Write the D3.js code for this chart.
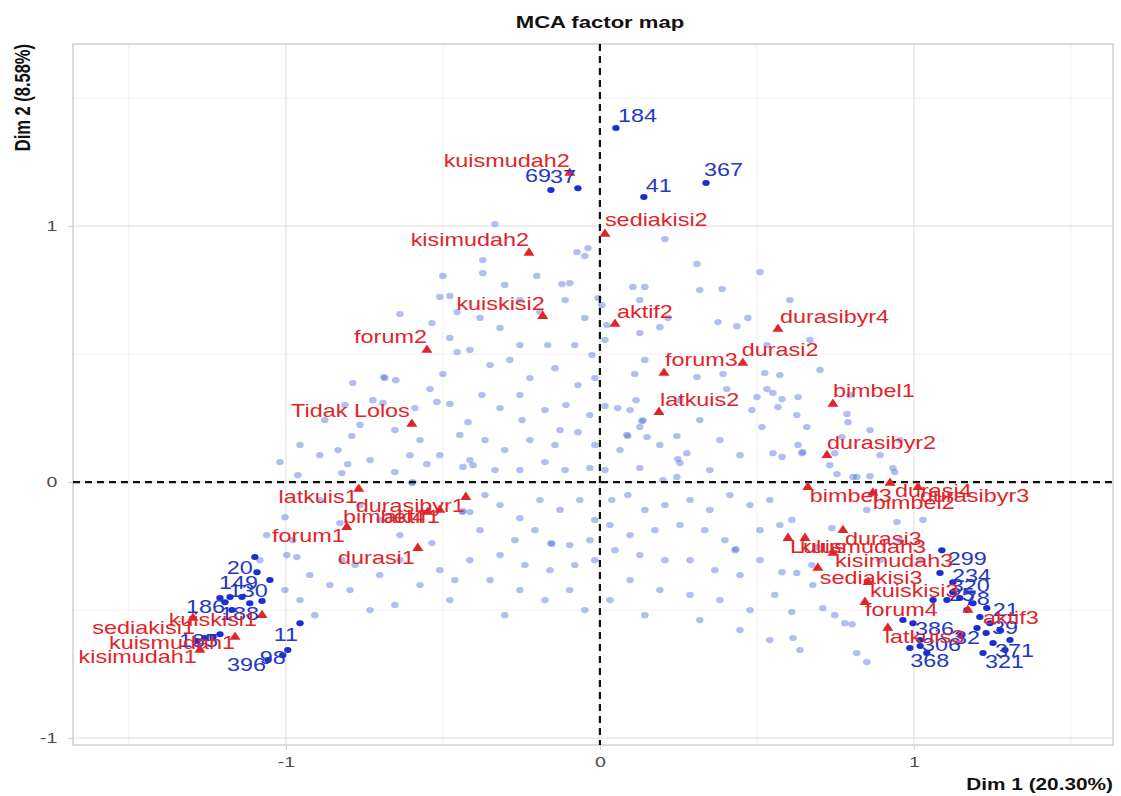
<!DOCTYPE html>
<html><head><meta charset="utf-8">
<script src="https://cdn.jsdelivr.net/npm/d3@7"></script>
<style>body{margin:0;background:#fff}svg{display:block}</style>
</head><body><svg id="c" width="1121" height="796"></svg>
<script>
// ---------------- DATA ----------------
const tickValues = [-1, 0, 1];
const tickLabels = ["-1", "0", "1"];
const xTitle = "Dim 1 (20.30%)";
const yTitle = "Dim 2 (8.58%)";
const chartTitle = "MCA factor map";

// variable categories (red triangles)
const catNames = ["kuismudah2","sediakisi2","kisimudah2","kuiskisi2","aktif2","forum2","Tidak Lolos","durasibyr4","forum3","durasi2","latkuis2","bimbel1","durasibyr2","latkuis1","durasibyr1","bimbel4","aktif1","forum1","durasi1","bimbel3","bimbel2","durasi4","durasibyr3","durasi3","Lulus","kuismudah3","kisimudah3","sediakisi3","kuiskisi3","forum4","latkuis3","aktif3","kuiskisi1","sediakisi1","kuismudah1","kisimudah1"];
const catDim1 = [-0.096,0.016,-0.226,-0.182,0.048,-0.551,-0.599,0.567,0.204,0.455,0.188,0.742,0.723,-0.768,-0.427,-0.548,-0.510,-0.806,-0.580,0.662,0.869,0.924,1.013,0.774,0.599,0.653,0.742,0.694,0.854,0.844,0.917,1.172,-1.076,-1.296,-1.162,-1.274];
const catDim2 = [1.207,0.969,0.895,0.648,0.617,0.516,0.227,0.598,0.426,0.465,0.273,0.305,0.105,-0.027,-0.059,-0.117,-0.109,-0.176,-0.258,-0.020,-0.043,-0.004,-0.020,-0.188,-0.219,-0.219,-0.277,-0.336,-0.391,-0.469,-0.570,-0.500,-0.520,-0.531,-0.605,-0.656];

// selected (high contribution) individuals, labelled
const selIds  = ["184","367","41","69","37","20","149","130","186","188","11","98","396","185","299","234","320","25","78","21","39","371","321","368","386","306","32"];
const selDim1 = [0.051,0.338,0.140,-0.156,-0.070,-1.099,-1.092,-1.051,-1.194,-1.076,-0.955,-0.994,-1.057,-1.232,1.089,1.083,1.124,1.124,1.146,1.232,1.242,1.252,1.220,1.041,0.997,1.019,1.201];
const selDim2 = [1.383,1.168,1.113,1.141,1.148,-0.293,-0.352,-0.383,-0.469,-0.465,-0.551,-0.656,-0.695,-0.605,-0.266,-0.355,-0.391,-0.430,-0.453,-0.492,-0.551,-0.629,-0.668,-0.668,-0.551,-0.617,-0.570];
// selected individuals whose labels are hidden by overlap
const selHidDim1 = [-1.178,-1.140,-1.115,-1.258,-1.283,-1.210,-1.010,-1.172,-1.210,1.061,1.105,1.188,1.169,1.210,1.274,0.965,0.987,1.306,1.290,1.150,1.020,1.230];
const selHidDim2 = [-0.449,-0.449,-0.473,-0.609,-0.621,-0.594,-0.676,-0.500,-0.453,-0.461,-0.461,-0.473,-0.500,-0.527,-0.578,-0.539,-0.648,-0.617,-0.656,-0.600,-0.640,-0.590];

// remaining individuals (light points)
const indDim1 = [-0.073,-0.038,-0.048,-0.334,-0.373,-0.373,-0.500,-0.303,-0.201,-0.121,-0.096,0.207,0.309,0.389,0.105,0.143,
-0.510,-0.478,-0.637,-0.535,-0.455,-0.478,-0.455,-0.500,-0.685,-0.688,-0.650,-0.787,-0.541,-0.519,-0.478,-0.723,-0.691,-0.589,-0.790,-0.420,
0.022,0.127,0.191,0.217,0.376,0.436,0.471,0.016,0.143,0.111,0.309,0.392,0.525,0.573,0.532,0.404,0.532,0.551,0.580,0.500,0.631,0.484,0.567,0.115,0.016,0.057,0.096,0.134,0.137,0.127,0.086,0.089,0.150,0.245,0.516,0.627,0.659,0.787,0.790,0.277,0.248,0.255,0.631,0.551,0.580,0.643,0.646,0.748,0.771,0.127,0.732,0.933,0.806,0.860,0.245,0.201,
-0.962,-0.822,-0.803,-0.653,-0.551,-0.436,-0.404,-0.599,-0.596,-1.003,-1.061,-0.978,-0.828,-0.439,-0.436,-0.414,-0.535,-0.997,-0.965,-0.822,-0.780,
0.755,0.818,0.939,0.611,0.739,0.946,1.029,0.850,0.691,0.675,0.627,0.678,0.580,0.611,0.710,0.748,0.780,0.803,0.615,0.818,0.850,
-0.255,-0.191,-0.111,-0.048,-0.006,0.006,-0.382,-0.318,-0.255,-0.166,-0.080,-0.025,-0.414,-0.350,-0.287,-0.223,-0.143,-0.070,-0.016,-0.376,-0.318,-0.248,-0.175,-0.108,-0.032,-0.366,-0.303,-0.223,-0.143,-0.070,-0.016,-0.414,-0.334,-0.255,-0.175,-0.111,-0.032,-0.446,-0.255,-0.127,
-0.955,-0.892,-1.019,-0.834,-0.764,-0.653,-0.573,-0.510,-0.732,-0.605,-0.812,-0.876,
-0.366,-0.318,-0.255,-0.191,-0.127,-0.064,-0.016,-0.271,-0.207,-0.156,-0.153,-0.096,-0.032,-0.382,-0.318,-0.239,-0.159,-0.080,-0.016,-0.350,-0.255,-0.175,-0.096,-0.303,-0.414,-0.462,-0.048,
-0.892,-0.764,-0.701,-0.637,-0.924,-0.860,-0.796,-0.701,-0.637,-0.573,-0.510,-0.732,-0.653,-0.955,-0.908,-1.003,-1.083,-0.478,
0.038,0.089,0.143,0.207,0.287,0.350,0.414,0.478,0.541,0.032,0.096,0.175,0.255,0.334,0.398,0.430,0.433,0.510,0.573,0.048,0.127,0.207,0.287,0.366,0.446,0.510,0.096,0.191,0.287,0.382,0.478,0.557,0.318,0.446,0.541,0.637,0.032,0.143,
0.127,0.318,0.510,0.605,0.669,0.701,0.796,0.860,0.892,0.955,0.255,0.318,0.382,0.446,0.350,0.064,0.191,0.016,
0.955,1.019,0.892];
const indDim2 = [0.898,0.914,0.883,1.008,0.867,0.816,0.805,0.770,0.805,0.773,0.777,0.949,0.852,0.754,0.762,0.762,
0.723,0.727,0.656,0.621,0.664,0.563,0.508,0.422,0.406,0.410,0.398,0.387,0.363,0.313,0.305,0.320,0.309,0.289,0.180,0.234,
0.613,0.582,0.605,0.641,0.625,0.609,0.641,0.555,0.477,0.422,0.410,0.422,0.426,0.418,0.535,0.363,0.363,0.348,0.324,0.332,0.332,0.281,0.293,0.320,0.297,0.289,0.281,0.238,0.241,0.215,0.184,0.180,0.176,0.180,0.215,0.262,0.215,0.266,0.234,0.113,0.090,0.074,0.145,0.113,0.098,0.113,0.117,0.113,0.176,0.055,0.066,0.055,0.020,0.023,0.020,0.008,
0.027,0.035,0.070,0.039,0.070,0.059,0.066,-0.004,0.000,-0.137,-0.207,-0.227,-0.160,-0.117,-0.113,-0.117,-0.238,-0.285,-0.293,-0.305,-0.324,
0.031,0.020,0.039,-0.148,-0.180,-0.156,-0.148,-0.109,-0.254,-0.324,-0.355,-0.402,-0.352,-0.508,-0.492,-0.520,-0.551,-0.555,-0.609,-0.668,-0.703,
0.711,0.664,0.711,0.641,0.719,0.691,0.641,0.602,0.535,0.535,0.535,0.496,0.516,0.457,0.477,0.406,0.445,0.379,0.406,0.340,0.289,0.242,0.281,0.301,0.262,0.164,0.125,0.164,0.145,0.195,0.145,0.086,0.047,0.047,0.078,0.047,0.055,0.184,0.340,0.203,
0.145,0.105,0.078,0.125,0.223,0.203,0.164,0.105,0.086,0.105,0.301,0.242,
-0.051,-0.090,-0.141,-0.070,-0.109,-0.070,-0.148,-0.227,-0.188,-0.238,-0.242,-0.246,-0.227,-0.188,-0.285,-0.324,-0.344,-0.324,-0.305,-0.383,-0.422,-0.461,-0.422,-0.520,-0.305,-0.383,-0.500,
-0.070,-0.090,-0.148,-0.207,-0.363,-0.402,-0.422,-0.363,-0.305,-0.402,-0.344,-0.500,-0.480,-0.461,-0.520,-0.422,-0.305,-0.461,
-0.070,-0.051,-0.109,-0.090,-0.070,-0.109,-0.051,-0.090,-0.070,-0.168,-0.207,-0.188,-0.168,-0.188,-0.227,-0.266,-0.262,-0.188,-0.168,-0.266,-0.285,-0.305,-0.305,-0.344,-0.363,-0.305,-0.383,-0.422,-0.441,-0.461,-0.500,-0.441,-0.539,-0.578,-0.617,-0.656,-0.461,-0.520,
0.711,0.750,0.820,0.711,0.555,0.438,0.340,0.203,0.105,0.164,0.320,0.242,0.164,0.105,0.047,0.125,0.145,0.047,
-0.227,-0.305,-0.305];

// ---------------- LAYOUT (label nudges in px: anchor, dx, dy) ----------------
const labelNudge = {
 "kuismudah2":["end",0,-13],"sediakisi2":["start",0,-14],"kisimudah2":["end",0,-13],"kuiskisi2":["end",2,-13],
 "aktif2":["start",2,-13],"forum2":["end",0,-13],"Tidak Lolos":["end",-2,-13],"durasibyr4":["start",2,-12],
 "forum3":["start",1,-13],"durasi2":["start",-1,-13],"latkuis2":["start",1,-13],"bimbel1":["start",0,-13],
 "durasibyr2":["start",0,-13],"latkuis1":["end",-1,8],"durasibyr1":["end",-1,8],"bimbel4":["end",-3,5],
 "aktif1":["end",0,7],"forum1":["end",-2,8],"durasi1":["end",-3,9],"bimbel3":["start",2,8],"bimbel2":["start",0,9],
 "durasi4":["start",5,7],"durasibyr3":["start",2,8],"durasi3":["start",2,8],"Lulus":["start",2,8],
 "kuismudah3":["start",-5,8],"kisimudah3":["start",2,8],"sediakisi3":["start",2,9],"kuiskisi3":["start",2,8],
 "forum4":["start",0,7],"latkuis3":["start",-3,9],"aktif3":["start",15,7],"kuiskisi1":["end",-5,4],
 "sediakisi1":["end",2,10],"kuismudah1":["end",0,6],"kisimudah1":["end",-3,7],
 "184":["start",2,-12],"367":["start",-2,-13],"41":["start",2,-12],"69":["end",0,-14],"37":["end",-2,-12],
 "20":["end",-2,10],"149":["end",1,10],"130":["end",-2,10],"186":["end",0,4],"188":["end",-3,12],"11":["end",-2,11],
 "98":["end",-2,8],"396":["end",-2,5],"185":["end",5,4],"299":["start",6,8],"234":["start",12,3],"320":["start",-2,3],
 "25":["start",-4,2],"78":["start",4,0],"21":["start",6,2],"39":["start",2,4],"371":["start",2,7],"321":["start",2,8],
 "368":["middle",3,7],"386":["start",2,5],"306":["start",2,5],"32":["end",3,10]
};

// ---------------- DRAW ----------------
const SX = 1.3; // horizontal text stretch of the reference
const FONT = "'Liberation Sans', Arial, Helvetica, sans-serif";
const svg = d3.select("#c");
const L = 73, R = 1113, T = 44, B = 745;
const x = d3.scaleLinear().domain([-1.678, 1.634]).range([L, R]);
const y = d3.scaleLinear().domain([-1.027, 1.711]).range([B, T]);

const red = "#e0252a", blueDark = "#1b2fd0", blueText = "#2438c2";

// grid
const grid = svg.append("g");
const minorX = [-1.5,-0.5,0.5,1.5], minorY = [-0.5,0.5,1.5];
grid.selectAll(".mx").data(minorX).join("line").attr("x1",d=>x(d)).attr("x2",d=>x(d)).attr("y1",T).attr("y2",B).attr("stroke","#f0f0f0").attr("stroke-width",1);
grid.selectAll(".my").data(minorY).join("line").attr("y1",d=>y(d)).attr("y2",d=>y(d)).attr("x1",L).attr("x2",R).attr("stroke","#f0f0f0").attr("stroke-width",1);
grid.selectAll(".Mx").data(tickValues).join("line").attr("x1",d=>x(d)).attr("x2",d=>x(d)).attr("y1",T).attr("y2",B).attr("stroke","#e4e4e4").attr("stroke-width",1.2);
grid.selectAll(".My").data(tickValues).join("line").attr("y1",d=>y(d)).attr("y2",d=>y(d)).attr("x1",L).attr("x2",R).attr("stroke","#e4e4e4").attr("stroke-width",1.2);
svg.append("rect").attr("x",L).attr("y",T).attr("width",R-L).attr("height",B-T).attr("fill","none").attr("stroke","#d0d0d0").attr("stroke-width",1.5);

// axes
const fmt = d => tickLabels[tickValues.indexOf(d)];
const ax = svg.append("g").attr("transform",`translate(0,${B})`).call(d3.axisBottom(x).tickValues(tickValues).tickFormat(fmt).tickSize(5).tickPadding(6));
const ay = svg.append("g").attr("transform",`translate(${L},0)`).call(d3.axisLeft(y).tickValues(tickValues).tickFormat(fmt).tickSize(5).tickPadding(7));
[ax, ay].forEach(a => {
  a.select(".domain").remove();
  a.selectAll(".tick line").attr("stroke","#cfcfcf");
  a.selectAll(".tick text").attr("fill","#4d4d4d").style("font-family",FONT).style("font-size","15px");
});
ax.selectAll(".tick text").attr("transform",`scale(${SX},1)`);
ay.selectAll(".tick text").attr("transform",`scale(${SX},1)`);

// light individuals
svg.append("g").selectAll("ellipse").data(d3.range(indDim1.length)).join("ellipse")
  .attr("cx",i=>x(indDim1[i])).attr("cy",i=>y(indDim2[i])).attr("rx",3.8).attr("ry",3.1)
  .attr("fill","rgb(70,100,220)").attr("fill-opacity",0.42);

// reference dashed lines
svg.append("line").attr("x1",x(0)).attr("x2",x(0)).attr("y1",T).attr("y2",B).attr("stroke","#111").attr("stroke-width",2.2).attr("stroke-dasharray","7,5");
svg.append("line").attr("y1",y(0)).attr("y2",y(0)).attr("x1",L).attr("x2",R).attr("stroke","#111").attr("stroke-width",2.2).attr("stroke-dasharray","7,5");

// selected individuals
svg.append("g").selectAll("ellipse").data(d3.range(selHidDim1.length)).join("ellipse")
  .attr("cx",i=>x(selHidDim1[i])).attr("cy",i=>y(selHidDim2[i])).attr("rx",3.7).attr("ry",3.0).attr("fill",blueDark);
svg.append("g").selectAll("ellipse").data(d3.range(selIds.length)).join("ellipse")
  .attr("cx",i=>x(selDim1[i])).attr("cy",i=>y(selDim2[i])).attr("rx",3.7).attr("ry",3.0).attr("fill",blueDark);

// categories
const tri = d3.symbol(d3.symbolTriangle, 40)();
svg.append("g").selectAll("path").data(d3.range(catNames.length)).join("path")
  .attr("d",tri).attr("transform",i=>`translate(${x(catDim1[i])},${y(catDim2[i])}) scale(1.15,1)`).attr("fill",red);

function label(g, name, px, py, color, size) {
  const n = labelNudge[name] || ["start",2,-12];
  g.append("text").text(name)
   .attr("transform",`translate(${px+n[1]},${py+n[2]}) scale(${SX},1)`)
   .attr("text-anchor",n[0]).attr("dominant-baseline","central")
   .attr("fill",color).style("font-family",FONT).style("font-size",size+"px");
}
const lg = svg.append("g");
selIds.forEach((s,i)=>label(lg, s, x(selDim1[i]), y(selDim2[i]), blueText, 18));
catNames.forEach((s,i)=>label(lg, s, x(catDim1[i]), y(catDim2[i]), red, 18));

// titles
svg.append("text").text(chartTitle).attr("transform",`translate(600,22) scale(${SX},1)`)
  .attr("text-anchor","middle").attr("dominant-baseline","central").attr("font-weight","bold")
  .style("font-family",FONT).style("font-size","17px").attr("fill","#111");
svg.append("text").text(xTitle).attr("transform",`translate(${R},784) scale(${SX},1)`)
  .attr("text-anchor","end").attr("dominant-baseline","central").attr("font-weight","bold")
  .style("font-family",FONT).style("font-size","16px").attr("fill","#111");
svg.append("text").text(yTitle).attr("transform",`translate(23,${T}) scale(${SX},1) rotate(-90)`)
  .attr("text-anchor","end").attr("dominant-baseline","central").attr("font-weight","bold")
  .style("font-family",FONT).style("font-size","16.5px").attr("fill","#111");
</script></body></html>
